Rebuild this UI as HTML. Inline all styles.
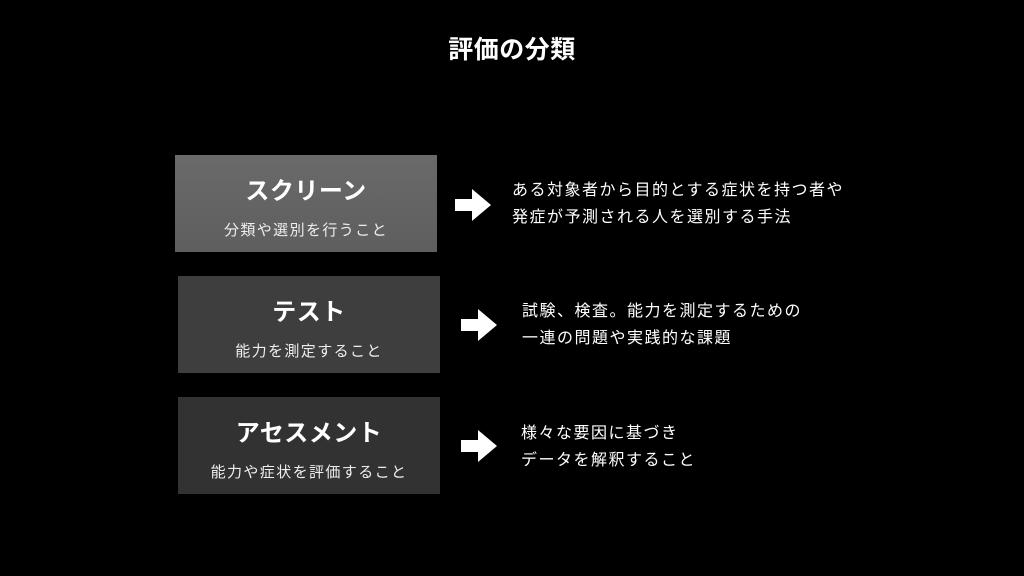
<!DOCTYPE html>
<html><head><meta charset="utf-8"><style>
body{margin:0;width:1024px;height:576px;background:#000;position:relative;overflow:hidden;font-family:"Liberation Sans","Noto Sans CJK JP",sans-serif;color:#fff}
.t{position:absolute;left:0;width:1024px;top:30px;text-align:center;font-size:25px;font-weight:bold;letter-spacing:0.5px}
.box{position:absolute;width:262px;height:97px;text-align:center}
.box .h{position:absolute;left:0;right:0;top:22px;font-size:24px;font-weight:bold;line-height:30px;letter-spacing:0.5px}
.box .s{position:absolute;left:0;right:0;top:66px;font-size:15px;line-height:20px;color:#eee;letter-spacing:1.4px}
.d{position:absolute;font-size:16px;line-height:27px;letter-spacing:1.5px}
svg{position:absolute}
</style></head><body>
<div class="t">評価の分類</div>
<div class="box" style="left:175px;top:155px;background:linear-gradient(#6a6a6a,#5e5e5e)"><div class="h">スクリーン</div><div class="s">分類や選別を行うこと</div></div>
<div class="box" style="left:178px;top:276px;background:#3e3e3e"><div class="h">テスト</div><div class="s">能力を測定すること</div></div>
<div class="box" style="left:178px;top:397px;background:#323232"><div class="h">アセスメント</div><div class="s">能力や症状を評価すること</div></div>
<svg style="left:455px;top:189px" width="36" height="32"><polygon points="0,10 17,10 17,0 36,16 17,32 17,22 0,22" fill="#fff"/></svg>
<svg style="left:461px;top:309px" width="36" height="32"><polygon points="0,10 17,10 17,0 36,16 17,32 17,22 0,22" fill="#fff"/></svg>
<svg style="left:461px;top:430px" width="36" height="32"><polygon points="0,10 17,10 17,0 36,16 17,32 17,22 0,22" fill="#fff"/></svg>
<div class="d" style="left:512px;top:177px">ある対象者から目的とする症状を持つ者や<br>発症が予測される人を選別する手法</div>
<div class="d" style="left:522px;top:298px">試験、検査。能力を測定するための<br>一連の問題や実践的な課題</div>
<div class="d" style="left:521px;top:420px">様々な要因に基づき<br>データを解釈すること</div>
</body></html>
